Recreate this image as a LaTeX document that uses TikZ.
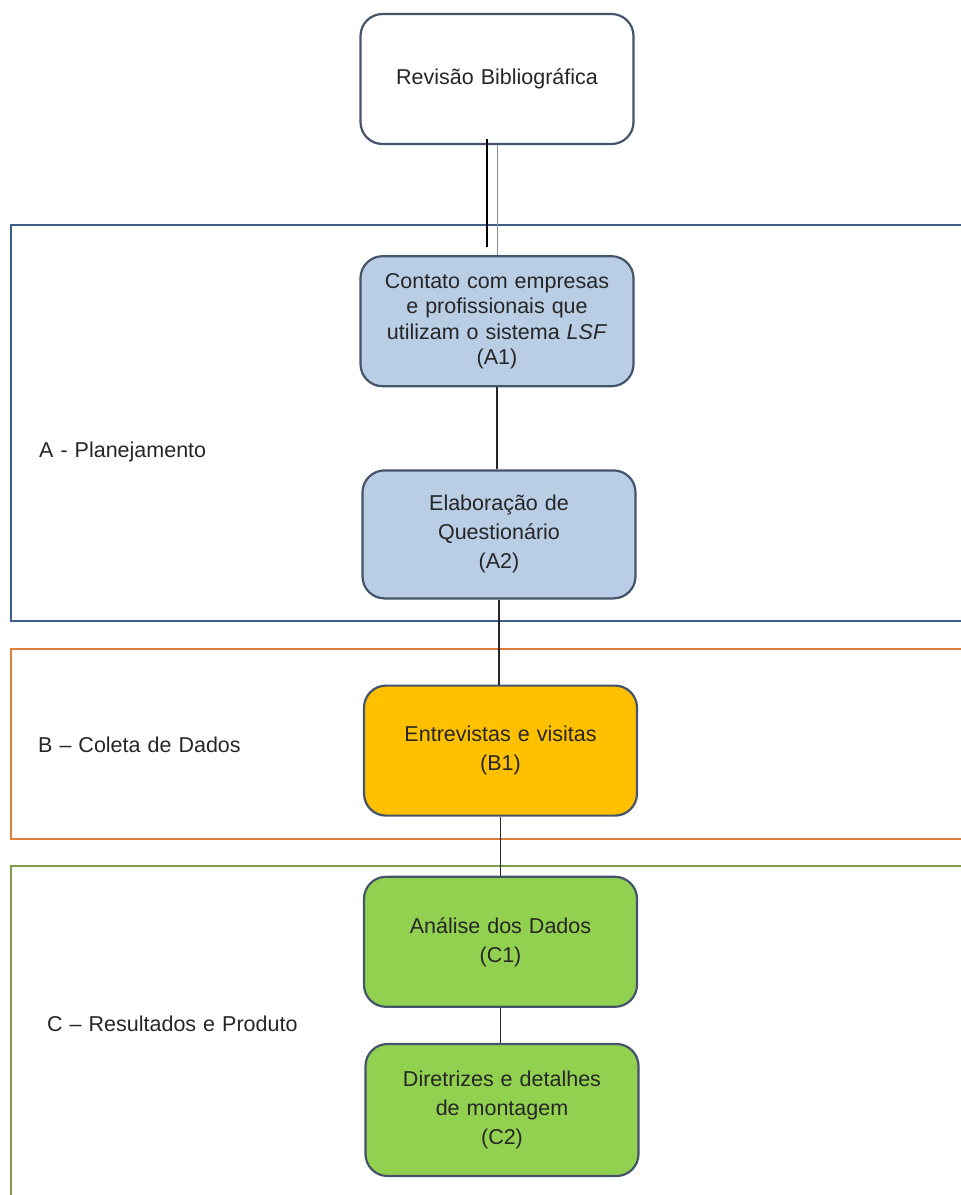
\documentclass[tikz,border=0pt]{standalone}
\usepackage{fontspec}
\setmainfont{Liberation Sans}
\usepackage{xcolor}
\usetikzlibrary{positioning,calc}

\definecolor{boxline}{HTML}{44546A}
\definecolor{fillA}{HTML}{B9CDE5}
\definecolor{fillB}{HTML}{FFC000}
\definecolor{fillC}{HTML}{92D050}
\definecolor{frameA}{HTML}{3E5F8A}
\definecolor{frameB}{HTML}{E07B39}
\definecolor{frameC}{HTML}{7F9A48}
\definecolor{txt}{HTML}{262626}

\newcommand{\boxfont}{\fontsize{21.5}{29}\selectfont\spaceskip=7pt plus 2pt minus 1pt\relax}
\newcommand{\tightfont}{\fontsize{21.5}{25.5}\selectfont\spaceskip=7pt plus 2pt minus 1pt\relax}

\begin{document}
\begin{tikzpicture}[
    x=1pt, y=1pt,
    font=\boxfont,
    text=txt,
    block/.style={draw=boxline, line width=2.2pt, rectangle, rounded corners=22pt, align=center, minimum width=273pt, minimum height=130pt, inner sep=4pt},
    frame/.style={line width=2.6pt},
    phase/.style={anchor=west, inner sep=0pt},
    link/.style={draw=black!85, line width=1.3pt}
]
\useasboundingbox (0,0) rectangle (961,-1195);

% Revisao
\node[block, fill=white] (rev) at (497,-79) {Revisão Bibliográfica};

% Bloco A
\node[block, fill=fillA, below=110pt of rev, font=\tightfont] (a1) {Contato com empresas\\e profissionais que\\utilizam o sistema \textit{LSF}\\(A1)};
\node[block, fill=fillA, below=82pt of a1, xshift=2pt, minimum height=128pt] (a2) {Elaboração de\\Questionário\\(A2)};

% Bloco B
\node[block, fill=fillB, below=85pt of a2, xshift=1.5pt] (b1) {Entrevistas e visitas\\(B1)};

% Bloco C
\node[block, fill=fillC, below=59pt of b1] (c1) {Análise dos Dados\\(C1)};
\node[block, fill=fillC, below=35pt of c1, xshift=1.5pt, minimum height=132pt] (c2) {Diretrizes e detalhes\\de montagem\\(C2)};

% Molduras das etapas
\draw[frame, draw=frameA] (11,-225) rectangle (975,-621);
\draw[frame, draw=frameB] (11,-649) rectangle (975,-839);
\draw[frame, draw=frameC] (11,-866) rectangle (975,-1210);

\node[phase] (fa) at (39,-452) {A - Planejamento};
\node[phase] (fb) at (38,-745) {B -- Coleta de Dados};
\node[phase] (fc) at (47,-1024) {C -- Resultados e Produto};

% Ligacoes
\coordinate (t1) at ($(rev.south)+(-10,6)$);
\coordinate (t2) at ($(a1.north)+(-10,8)$);
\draw[black, line width=1.8pt] (t1) -- (t2);
\draw[black!45, line width=0.9pt] (rev.south) -- (a1.north);
\draw[link] (a1.south) -- (a1.south |- a2.north);
\draw[link] (a2.south) -- (a2.south |- b1.north);
\draw[link] (b1.south) -- (b1.south |- c1.north);
\draw[link] (c1.south) -- (c1.south |- c2.north);

\end{tikzpicture}
\end{document}
